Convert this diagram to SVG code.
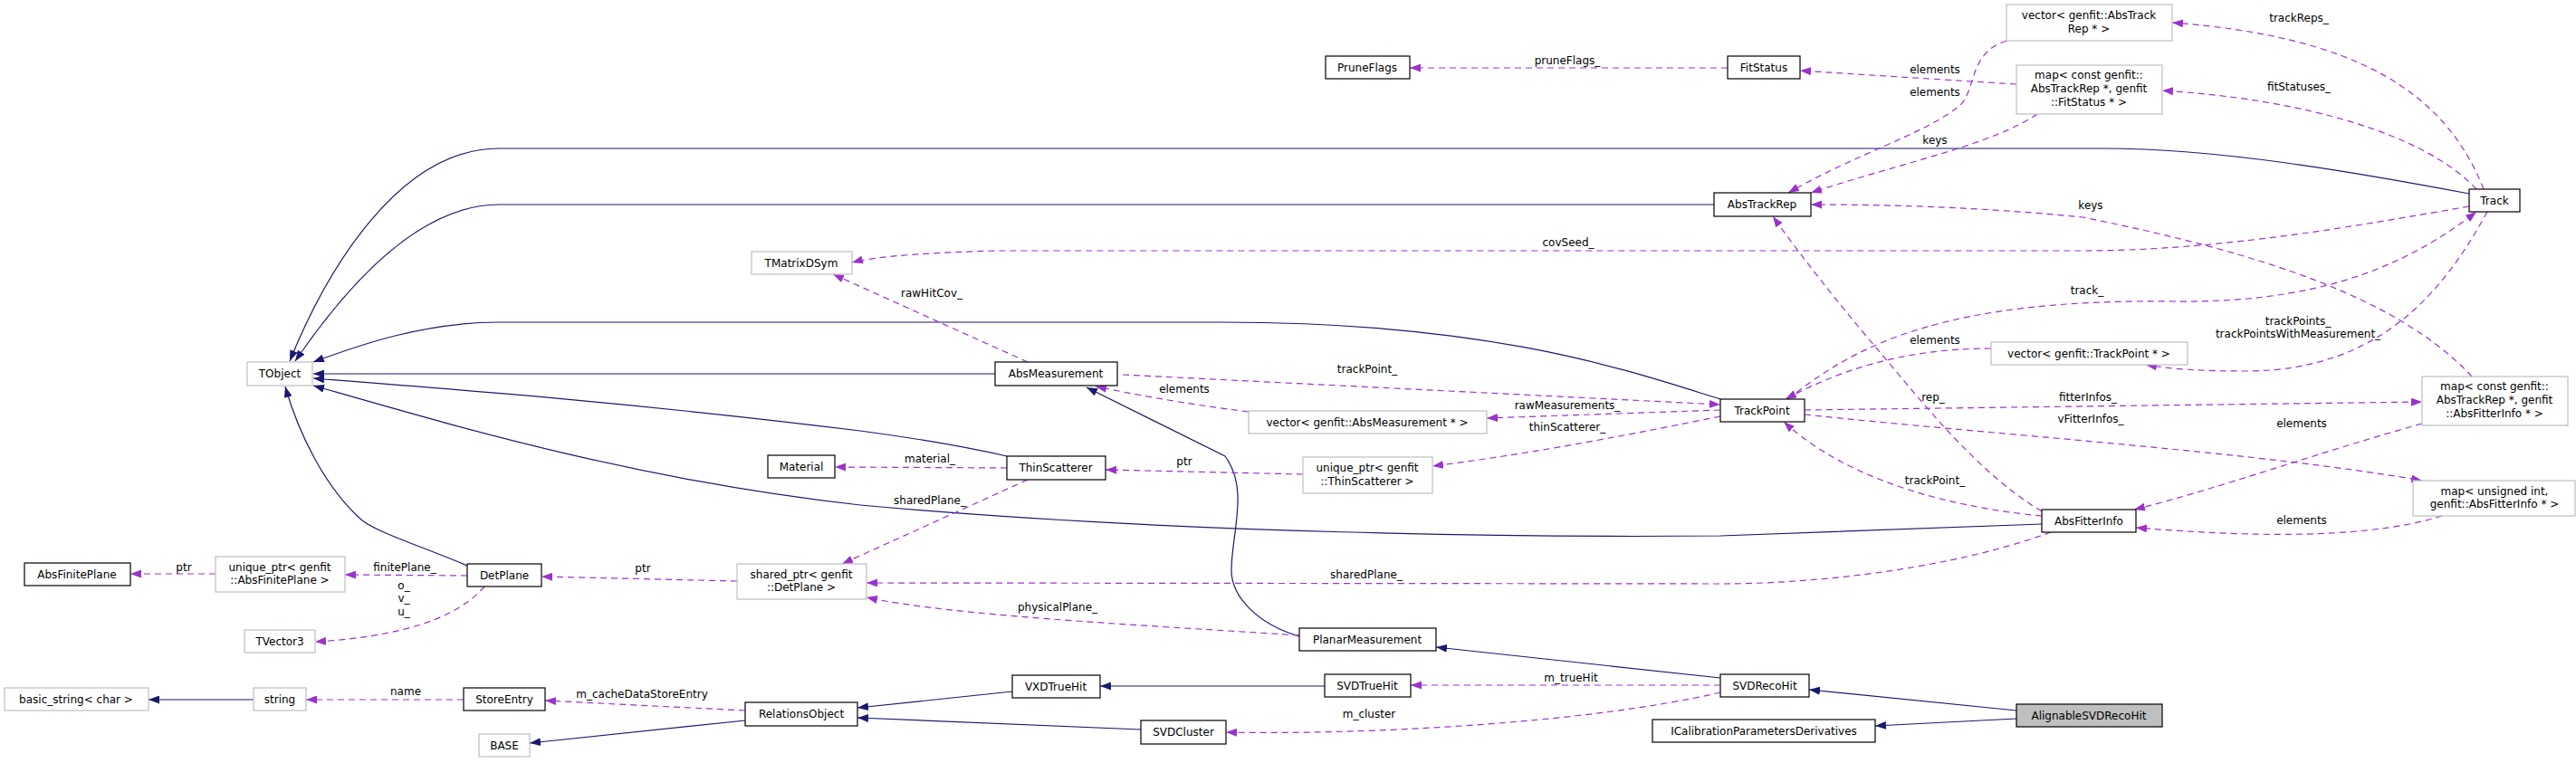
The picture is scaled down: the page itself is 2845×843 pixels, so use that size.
<svg xmlns="http://www.w3.org/2000/svg" width="2845" height="843" viewBox="0 0 2845 843">
<style>
text{font-family:"DejaVu Sans","Liberation Sans",sans-serif;font-size:12px;fill:#000;text-anchor:middle}
.n rect{fill:#fff;stroke:#000;stroke-width:1.2}
.g rect{fill:#fff;stroke:#bfbfbf;stroke-width:1.2}
.h{stroke:#191970;stroke-width:1.2;fill:none;marker-end:url(#ah)}
.m{stroke:#9a32cd;stroke-width:1.2;fill:none;stroke-dasharray:7,5;marker-end:url(#am)}
.l text{font-size:12px}
</style>
<defs>
<marker id="ah" markerUnits="userSpaceOnUse" markerWidth="12" markerHeight="9" refX="12" refY="4.5" orient="auto"><path d="M0,0L12,4.5L0,9z" fill="#191970"/></marker>
<marker id="am" markerUnits="userSpaceOnUse" markerWidth="12" markerHeight="9" refX="12" refY="4.5" orient="auto"><path d="M0,0L12,4.5L0,9z" fill="#9a32cd"/></marker>
</defs>
<rect width="2845" height="843" fill="#fff"/>
<g id="connectors">
<path class="h" d="M2727,214 C2600,190 2450,164 2324,164 L551,164 C440,164 360,300 320,399"/>
<path class="h" d="M1893,226 L551,226 C460,226 380,320 326,399"/>
<path class="h" d="M1900,441 C1800,410 1650,356 1350,356 L551,356 C470,356 400,380 346,400"/>
<path class="h" d="M1099,413 L346,413"/>
<path class="h" d="M1112,504 C1050,490 980,480 950,476 C700,445 500,430 346,418"/>
<path class="h" d="M2255,579 L1900,592 C1700,594 1300,590 950,558 C700,530 500,470 346,426"/>
<path class="h" d="M516,625 C470,605 420,590 400,575 C360,540 330,480 315,427"/>
<path class="h" d="M1435,703 C1390,690 1360,660 1360,630 C1360,590 1380,540 1353,504 L1200,428"/>
<path class="h" d="M1900,749 L1586,715"/>
<path class="h" d="M2227,785 L1998,762"/>
<path class="h" d="M2227,794 L2071,802"/>
<path class="h" d="M1463,758 L1215,758"/>
<path class="h" d="M1118,764 L947,782"/>
<path class="h" d="M1260,806 L947,793"/>
<path class="h" d="M823,796 L585,821"/>
<path class="h" d="M280,773 L164,773"/>

<path class="m" d="M1908,75 L1557,75"/>
<path class="m" d="M2227,93 L1988,78"/>
<path class="m" d="M2250,126 C2200,160 2100,180 2000,213"/>
<path class="m" d="M2216,45 C2170,60 2185,105 2160,120 C2120,150 2050,170 1975,213"/>
<path class="m" d="M2743,209 C2700,100 2600,40 2399,25"/>
<path class="m" d="M2735,209 C2680,150 2550,110 2388,100"/>
<path class="m" d="M2727,228 C2600,250 2450,277 2300,277 L1100,277 C1000,280 960,285 941,290"/>
<path class="m" d="M2730,416 C2650,330 2500,280 2300,240 C2200,230 2100,226 2000,226"/>
<path class="m" d="M1975,441 C2050,380 2150,330 2400,333 C2550,335 2650,300 2735,234"/>
<path class="m" d="M2747,234 C2700,320 2630,410 2480,410 C2430,410 2400,408 2370,403"/>
<path class="m" d="M2199,385 C2100,385 2030,410 1972,441"/>
<path class="m" d="M2255,565 C2180,520 2120,440 2060,370 C2010,310 1980,270 1958,239"/>
<path class="m" d="M1993,453 L2675,444"/>
<path class="m" d="M1993,458 C2200,480 2500,500 2675,531"/>
<path class="m" d="M2675,468 C2560,500 2450,540 2357,563"/>
<path class="m" d="M2697,570 C2600,600 2450,590 2359,583"/>
<path class="m" d="M2255,570 C2150,560 2040,530 1970,466"/>
<path class="m" d="M2265,588 C2150,630 2000,645 1900,645 L957,644"/>
<path class="m" d="M1240,414 L1900,447"/>
<path class="m" d="M1900,453 L1642,462"/>
<path class="m" d="M1379,455 C1300,445 1250,435 1210,427"/>
<path class="m" d="M1900,460 C1800,480 1700,500 1582,515"/>
<path class="m" d="M1439,524 L1221,519"/>
<path class="m" d="M1135,400 L920,303"/>
<path class="m" d="M1112,517 L922,516"/>
<path class="m" d="M1135,530 L930,623"/>
<path class="m" d="M1435,702 C1250,690 1050,680 957,660"/>
<path class="m" d="M814,642 L598,637"/>
<path class="m" d="M516,636 L381,635"/>
<path class="m" d="M238,634 L144,634"/>
<path class="m" d="M535,648 C500,690 420,705 348,709"/>
<path class="m" d="M823,785 L602,774"/>
<path class="m" d="M512,773 L338,773"/>
<path class="m" d="M1900,757 L1558,757"/>
<path class="m" d="M1900,765 C1750,800 1500,812 1354,809"/>
</g>
<g class="l" id="labels">
<text x="1731" y="71">pruneFlags_</text>
<text x="2137" y="81">elements</text>
<text x="2137" y="106">elements</text>
<text x="2137" y="159">keys</text>
<text x="2539" y="24">trackReps_</text>
<text x="2539" y="100">fitStatuses_</text>
<text x="1732" y="272">covSeed_</text>
<text x="2309" y="231">keys</text>
<text x="2305" y="325">track_</text>
<text x="2538" y="359">trackPoints_</text>
<text x="2538" y="373">trackPointsWithMeasurement_</text>
<text x="2137" y="380">elements</text>
<text x="2135" y="443">rep_</text>
<text x="2306" y="443">fitterInfos_</text>
<text x="2309" y="467">vFitterInfos_</text>
<text x="2542" y="472">elements</text>
<text x="2542" y="579">elements</text>
<text x="2137" y="535">trackPoint_</text>
<text x="1509" y="639">sharedPlane_</text>
<text x="1510" y="412">trackPoint_</text>
<text x="1731" y="452">rawMeasurements_</text>
<text x="1308" y="434">elements</text>
<text x="1731" y="476">thinScatterer_</text>
<text x="1308" y="514">ptr</text>
<text x="1029" y="328">rawHitCov_</text>
<text x="1027" y="511">material_</text>
<text x="1027" y="557">sharedPlane_</text>
<text x="1168" y="675">physicalPlane_</text>
<text x="710" y="632">ptr</text>
<text x="447" y="631">finitePlane_</text>
<text x="203" y="631">ptr</text>
<text x="446" y="651">o_</text>
<text x="446" y="665">v_</text>
<text x="446" y="680">u_</text>
<text x="709" y="771">m_cacheDataStoreEntry</text>
<text x="448" y="768">name</text>
<text x="1735" y="753">m_trueHit</text>
<text x="1512" y="793">m_cluster</text>
</g>
<g id="TObject" class="g"><rect x="273" y="400" width="72" height="26"/><text x="309" y="417">TObject</text></g>
<g id="TMatrixDSym" class="g"><rect x="830" y="278" width="111" height="25"/><text x="885" y="295">TMatrixDSym</text></g>
<g id="Material" class="n"><rect x="848" y="503" width="74" height="25"/><text x="885" y="520">Material</text></g>
<g id="AbsFinitePlane" class="n"><rect x="27" y="622" width="117" height="25"/><text x="85" y="639">AbsFinitePlane</text></g>
<g id="uptrAFP" class="g"><rect x="238" y="615" width="143" height="39"/><text x="309" y="631">unique_ptr&lt; genfit</text><text x="309" y="645">::AbsFinitePlane &gt;</text></g>
<g id="DetPlane" class="n"><rect x="516" y="623" width="82" height="25"/><text x="557" y="640">DetPlane</text></g>
<g id="TVector3" class="g"><rect x="270" y="696" width="78" height="25"/><text x="309" y="713">TVector3</text></g>
<g id="sptrDP" class="g"><rect x="814" y="623" width="143" height="39"/><text x="885" y="639">shared_ptr&lt; genfit</text><text x="885" y="653">::DetPlane &gt;</text></g>
<g id="basic_string" class="g"><rect x="5" y="760" width="159" height="25"/><text x="84" y="777">basic_string&lt; char &gt;</text></g>
<g id="string" class="g"><rect x="280" y="760" width="58" height="25"/><text x="309" y="777">string</text></g>
<g id="StoreEntry" class="n"><rect x="512" y="760" width="90" height="25"/><text x="557" y="777">StoreEntry</text></g>
<g id="RelationsObject" class="n"><rect x="823" y="776" width="124" height="26"/><text x="885" y="793">RelationsObject</text></g>
<g id="BASE" class="g"><rect x="529" y="811" width="56" height="25"/><text x="557" y="828">BASE</text></g>
<g id="PruneFlags" class="n"><rect x="1464" y="62" width="93" height="25"/><text x="1510" y="79">PruneFlags</text></g>
<g id="AbsMeasurement" class="n"><rect x="1099" y="400" width="135" height="26"/><text x="1166" y="417">AbsMeasurement</text></g>
<g id="vecAM" class="g"><rect x="1379" y="454" width="263" height="25"/><text x="1510" y="471">vector&lt; genfit::AbsMeasurement * &gt;</text></g>
<g id="ThinScatterer" class="n"><rect x="1112" y="504" width="109" height="26"/><text x="1166" y="521">ThinScatterer</text></g>
<g id="uptrTS" class="g"><rect x="1439" y="505" width="143" height="40"/><text x="1510" y="521">unique_ptr&lt; genfit</text><text x="1510" y="536">::ThinScatterer &gt;</text></g>
<g id="PlanarMeasurement" class="n"><rect x="1435" y="694" width="151" height="25"/><text x="1510" y="711">PlanarMeasurement</text></g>
<g id="VXDTrueHit" class="n"><rect x="1118" y="746" width="97" height="25"/><text x="1166" y="763">VXDTrueHit</text></g>
<g id="SVDTrueHit" class="n"><rect x="1463" y="745" width="95" height="25"/><text x="1510" y="762">SVDTrueHit</text></g>
<g id="SVDCluster" class="n"><rect x="1260" y="796" width="94" height="26"/><text x="1307" y="813">SVDCluster</text></g>
<g id="ICalib" class="n"><rect x="1825" y="795" width="246" height="25"/><text x="1948" y="812">ICalibrationParametersDerivatives</text></g>
<g id="vecATR" class="g"><rect x="2216" y="5" width="183" height="40"/><text x="2307" y="21">vector&lt; genfit::AbsTrack</text><text x="2307" y="36">Rep * &gt;</text></g>
<g id="FitStatus" class="n"><rect x="1908" y="62" width="80" height="25"/><text x="1948" y="79">FitStatus</text></g>
<g id="mapFS" class="g"><rect x="2227" y="72" width="161" height="54"/><text x="2307" y="87">map&lt; const genfit::</text><text x="2307" y="102">AbsTrackRep *, genfit</text><text x="2307" y="117">::FitStatus * &gt;</text></g>
<g id="AbsTrackRep" class="n"><rect x="1893" y="213" width="107" height="26"/><text x="1946" y="230">AbsTrackRep</text></g>
<g id="Track" class="n"><rect x="2727" y="209" width="56" height="25"/><text x="2755" y="226">Track</text></g>
<g id="TrackPoint" class="n"><rect x="1900" y="441" width="93" height="25"/><text x="1946" y="458">TrackPoint</text></g>
<g id="vecTP" class="g"><rect x="2199" y="378" width="217" height="25"/><text x="2307" y="395">vector&lt; genfit::TrackPoint * &gt;</text></g>
<g id="mapAFI" class="g"><rect x="2675" y="416" width="161" height="54"/><text x="2755" y="431">map&lt; const genfit::</text><text x="2755" y="446">AbsTrackRep *, genfit</text><text x="2755" y="461">::AbsFitterInfo * &gt;</text></g>
<g id="mapUI" class="g"><rect x="2665" y="531" width="179" height="39"/><text x="2755" y="547">map&lt; unsigned int,</text><text x="2755" y="561">genfit::AbsFitterInfo * &gt;</text></g>
<g id="AbsFitterInfo" class="n"><rect x="2255" y="563" width="104" height="25"/><text x="2307" y="580">AbsFitterInfo</text></g>
<g id="SVDRecoHit" class="n"><rect x="1900" y="745" width="98" height="25"/><text x="1949" y="762">SVDRecoHit</text></g>
<g id="AlignableSVDRecoHit" class="n"><rect x="2227" y="778" width="161" height="25" style="fill:#bfbfbf"/><text x="2307" y="795">AlignableSVDRecoHit</text></g>
</svg>
